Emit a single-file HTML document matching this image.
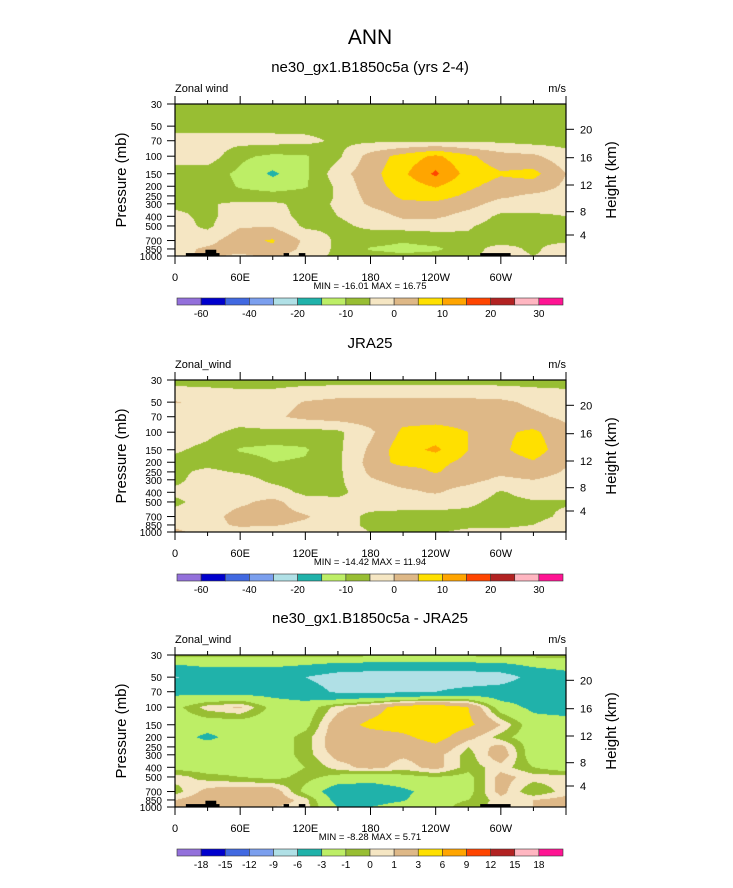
<!DOCTYPE html>
<html><head><meta charset="utf-8"><style>
body{margin:0;background:#fff;width:733px;height:888px;position:relative;overflow:hidden;font-family:"Liberation Sans",Arial,sans-serif}
canvas{position:absolute}
svg{position:absolute;left:0;top:0}
</style></head><body>
<canvas id="c0" width="391" height="152" style="left:175px;top:104px"></canvas>
<canvas id="c1" width="391" height="152" style="left:175px;top:380px"></canvas>
<canvas id="c2" width="391" height="152" style="left:175px;top:655px"></canvas>
<svg id="ov" width="733" height="888"></svg>
<script>
const lonGrid=[0,30,60,90,120,150,180,210,240,270,300,330,360];
const pGrid=[30,50,70,100,150,200,250,300,400,500,700,850,1000];
const pTicks=[30,50,70,100,150,200,250,300,400,500,700,850,1000];
const lonTicks=[0,60,120,180,240,300];
const lonTickLabels=["0","60E","120E","180","120W","60W"];
const kmTickLabels=["4","8","12","16","20"];
const levels1=[-60,-50,-40,-30,-20,-15,-10,-5,0,5,10,15,20,25,30];
const levels3=[-18,-15,-12,-9,-6,-3,-1,0,1,3,6,9,12,15,18];
const cbLabels1=["-60","","-40","","-20","","-10","","0","","10","","20","","30"];
const cbLabels3=["-18","-15","-12","-9","-6","-3","-1","0","1","3","6","9","12","15","18"];
const colors=["#9370DB","#0000CD","#4169E1","#7B9FEE","#B0E0E6","#20B2AA","#BDEE66","#98BE33","#F5E6C3","#DEB887","#FFE000","#FFA500","#FF4500","#B22222","#FFB6C1","#FF1493"];
const modelWind=[
[-8,-8,-8,-8,-8,-8,-8,-8,-8,-8,-8,-8,-8],
[-7,-7,-7,-7,-7,-7,-8,-8,-8,-8,-8,-8,-8],
[-3,-3,-3,-3,-3.5,-6,-6,-6,-6,-6,-6,-7,-7],
[-3,-2,-9,-11,-10.5,-6,2,7,11,6,2,1,-3],
[-7,-8,-11,-16,-11,-2,3,9,16,8,5.5,6.5,0],
[-6,-7,-10.5,-12,-10.5,-4,3,7,10.5,6,3,3,-1],
[-6,-7,-8,-8.5,-8,-4.5,2,6,7,4,1,-1,-2],
[-6,-5.5,-4,-4,-6.5,-4.5,1,4,4,2,-2,-2,-3],
[-4,-6,-3,-3,-6.5,-5,-3,1,1,-2,-6,-6,-5],
[-3,-6,-0.5,-0.5,-6,-6,-4,-3,-3,-4.5,-7,-7,-7],
[-3,-2,3.5,5.5,-1,-6,-8,-9.5,-8,-6,-7,-6,-6],
[-2,1,2,4,-1.5,-6,-10.5,-11.5,-11,-7,-3,-6,-2],
[-1,1,-1,1,-3,-6,-8,-9,-8,-6,-3,-5,-3]];
const jraWind=[
[-7,-7,-7,-7,-7,-7,-7,-7,-7,-7,-7,-7,-7],
[0.3,-1,-2,-2,0.3,1.5,1.5,1.5,1.5,1.5,1,-1,-2],
[-3,-3,-3,-1,1.5,2.5,3,3,3,3,2.5,1,-1],
[-3,-4,-6,-6,-7,-6,-1,6,7,5,4,6,1.5],
[-4.5,-6,-10.5,-11.5,-10.5,-6,1,8,11,5,4,7.5,2],
[-6,-6.5,-7.5,-10,-9.5,-6,2,7,6.5,3.5,2.5,4.5,0.5],
[-6,-4,-5.5,-7,-7,-6,1,2,5.5,2,1,2.5,-0.5],
[-6,-3,-3,-6,-7,-6,-0.5,2,2,1.5,-1,0,-2],
[-4,-3,-3,-3,-6,-6,-3,-1,0.5,-2,-5.5,-3,-3],
[-6,-3,-1,1.5,-3,-4,-3,-3,-3,-4,-6.5,-5.5,-5.5],
[-3,-2,2,2,0.5,-3,-6,-6.5,-6.5,-6.5,-6.5,-6.5,-4],
[-1,-2,1,0.5,-1,-3,-6,-6.5,-6.5,-6,-6,-5,-2],
[1,-2,-3,-3,-3,-3,-5,-6,-5.5,-4,-4,-3,-3]];
const diffWind=[
[-0.5,-0.5,-0.5,-0.5,-0.5,-0.5,-0.5,-0.5,-0.5,-0.5,-0.5,-0.5,-0.5],
[-6.2,-5,-5,-5,-6,-7.5,-8,-8,-8,-8,-7.5,-5,-4],
[-3.5,-4,-4,-4,-4.5,-6.5,-6.5,-6.5,-6,-5,-4.5,-4,-4],
[-1.5,0.5,1.2,-1.5,-2,0.5,2,4,4.5,3,-2,-3.5,-4],
[-2,-2,-2,-2,-1.5,2,3.5,4,4.5,3.5,1,-2,-2],
[-2,-3.5,-2,-2,-0.5,2,2,2.5,4,1.5,-0.5,-2,-2],
[-2,-2,-2,-2,-0.5,2,2,1.5,2.5,0,1.5,-2,-2],
[-2,-2,-2,-2,-0.5,1.5,1.5,1.2,1.5,-0.5,2,-2,-2],
[-1.5,-2,-2,-2,-1,0.5,1.5,0.5,1.5,-0.5,0.5,-1,-2],
[0.5,-0.5,-1,-1.5,-0.5,-1.5,-2,-1.5,-1,-1.5,1.5,0.5,0.5],
[-0.5,1.5,2,2,-1.5,-4.5,-4.5,-3.5,-2,-1.5,1.5,-1,0.5],
[1,2,2,2,0.5,-4,-4,-3.2,-1.5,-1,0.5,1,1.5],
[1,1.5,1,1,0.5,-3,-3,-2,-1.5,-0.5,0.5,1,1.5]];
const topoLonStart=[10,28,100,114,281];
const topoLonEnd=[41,38,105,120,309];
const topoPTop=[935,865,935,935,935];

const L=175,W=391,H=152,tops=[104,380,655];
const LR=Math.log(1000/30);
function xOf(lon){return L+lon/360*W;}
function yOf(p,top){return top+Math.log(p/30)/LR*H;}
function colorFor(v,lev){let k=0;for(const l of lev){if(v>=l)k++;}return colors[k];}
function sample(data,lon,p){
  let i=Math.min(11,Math.floor(lon/30));let t=(lon-lonGrid[i])/30;
  const lp=Math.log(p);let j=0;while(j<11&&Math.log(pGrid[j+1])<lp)j++;
  let u=(lp-Math.log(pGrid[j]))/(Math.log(pGrid[j+1])-Math.log(pGrid[j]));
  u=Math.max(0,Math.min(1,u));
  const a=data[j][i]*(1-t)+data[j][i+1]*t,b=data[j+1][i]*(1-t)+data[j+1][i+1]*t;
  return a*(1-u)+b*u;}
function hex(c){return [parseInt(c.substr(1,2),16),parseInt(c.substr(3,2),16),parseInt(c.substr(5,2),16)];}
function paint(id,data,lev){
  const cv=document.getElementById(id),ctx=cv.getContext('2d');const img=ctx.createImageData(W,H);
  for(let py=0;py<H;py++){const p=30*Math.exp((py+0.5)/H*LR);
    for(let px=0;px<W;px++){const lon=(px+0.5)/W*360;const rgb=hex(colorFor(sample(data,lon,p),lev));
      const o=(py*W+px)*4;img.data[o]=rgb[0];img.data[o+1]=rgb[1];img.data[o+2]=rgb[2];img.data[o+3]=255;}}
  ctx.putImageData(img,0,0);}
paint('c0',modelWind,levels1);paint('c1',jraWind,levels1);paint('c2',diffWind,levels3);

const NS="http://www.w3.org/2000/svg",ov=document.getElementById('ov');
function el(tag,attrs,txt){const e=document.createElementNS(NS,tag);for(const k in attrs)e.setAttribute(k,attrs[k]);if(txt!==undefined)e.textContent=txt;ov.appendChild(e);return e;}
function txt(x,y,s,size,anchor,name){const e=el('text',{x:x,y:y,'font-size':size,'text-anchor':anchor||'middle','font-family':'Liberation Sans, Arial, sans-serif',fill:'#000'},s);

return e;}

let t0=txt(370,44,"ANN",21,'middle','main-title');
const subtitles=["ne30_gx1.B1850c5a (yrs 2-4)","JRA25","ne30_gx1.B1850c5a - JRA25"];
const leftLabels=["Zonal wind","Zonal_wind","Zonal_wind"];
const minmax=["MIN = -16.01  MAX =  16.75","MIN = -14.42  MAX =  11.94","MIN = -8.28  MAX =   5.71"];
const kmOffsets=[131,107.7,81,53.7,25.3];
tops.forEach((top,k)=>{
  txt(370,top-32,subtitles[k],15,'middle','panel-title-'+(k+1));
  txt(175,top-12,leftLabels[k],11,'start','variable-label-'+(k+1));
  txt(566,top-12,"m/s",11,'end','units-label-'+(k+1));
  for(let i=0;i<topoLonStart.length;i++){
    if(k===1)continue;
    const r=el('rect',{x:xOf(topoLonStart[i]),y:yOf(topoPTop[i],top),width:xOf(topoLonEnd[i])-xOf(topoLonStart[i]),height:top+H-yOf(topoPTop[i],top),fill:'#000'});
    
    
  }
  const fr=el('rect',{x:L,y:top,width:W,height:H,fill:'none',stroke:'#000','stroke-width':1.2});
  
  
  for(let lon=0;lon<=360;lon+=30){const major=lon%60===0;const len=major?8:4;const x=xOf(lon);
    const a=el('line',{x1:x,y1:top+H,x2:x,y2:top+H+len,stroke:'#000','stroke-width':1});
    
    
    const b=el('line',{x1:x,y1:top,x2:x,y2:top-len,stroke:'#000','stroke-width':1});
    
    }
  lonTicks.forEach((lon,i)=>txt(xOf(lon),top+H+25,lonTickLabels[i],11,'middle','x-tick-label'));
  pTicks.forEach(p=>{const y=yOf(p,top);const l=el('line',{x1:L-8,y1:y,x2:L,y2:y,stroke:'#000','stroke-width':1});
    
    
    txt(L-13,y+4,String(p),10,'end','y-tick-label');});
  kmOffsets.forEach((o,i)=>{const y=top+o;const l=el('line',{x1:L+W,y1:y,x2:L+W+8,y2:y,stroke:'#000','stroke-width':1});
    
    
    txt(L+W+14,y+4,kmTickLabels[i],11,'start','height-tick-label');});
  const yt=txt(0,0,"Pressure (mb)",15,'middle','y-axis-title');yt.setAttribute('transform','translate(126,'+(top+H/2)+') rotate(-90)');
  const ht=txt(0,0,"Height (km)",15,'middle','height-axis-title');ht.setAttribute('transform','translate(616,'+(top+H/2)+') rotate(-90)');
  txt(370,top+H+33,minmax[k],9.5,'middle','min-max-label');
  const cbY=top+194,cbX=177,cbW=386,bw=cbW/16;
  const lev=k===2?levels3:levels1,labs=k===2?cbLabels3:cbLabels1;
  for(let i=0;i<16;i++){const r=el('rect',{x:cbX+i*bw,y:cbY,width:bw,height:7,fill:colors[i],stroke:'#333','stroke-width':0.6});
    
    }
  lev.forEach((v,i)=>{if(labs[i])txt(cbX+(i+1)*bw,cbY+19,labs[i],10,'middle','colorbar-label');});
});
</script>
</body></html>
